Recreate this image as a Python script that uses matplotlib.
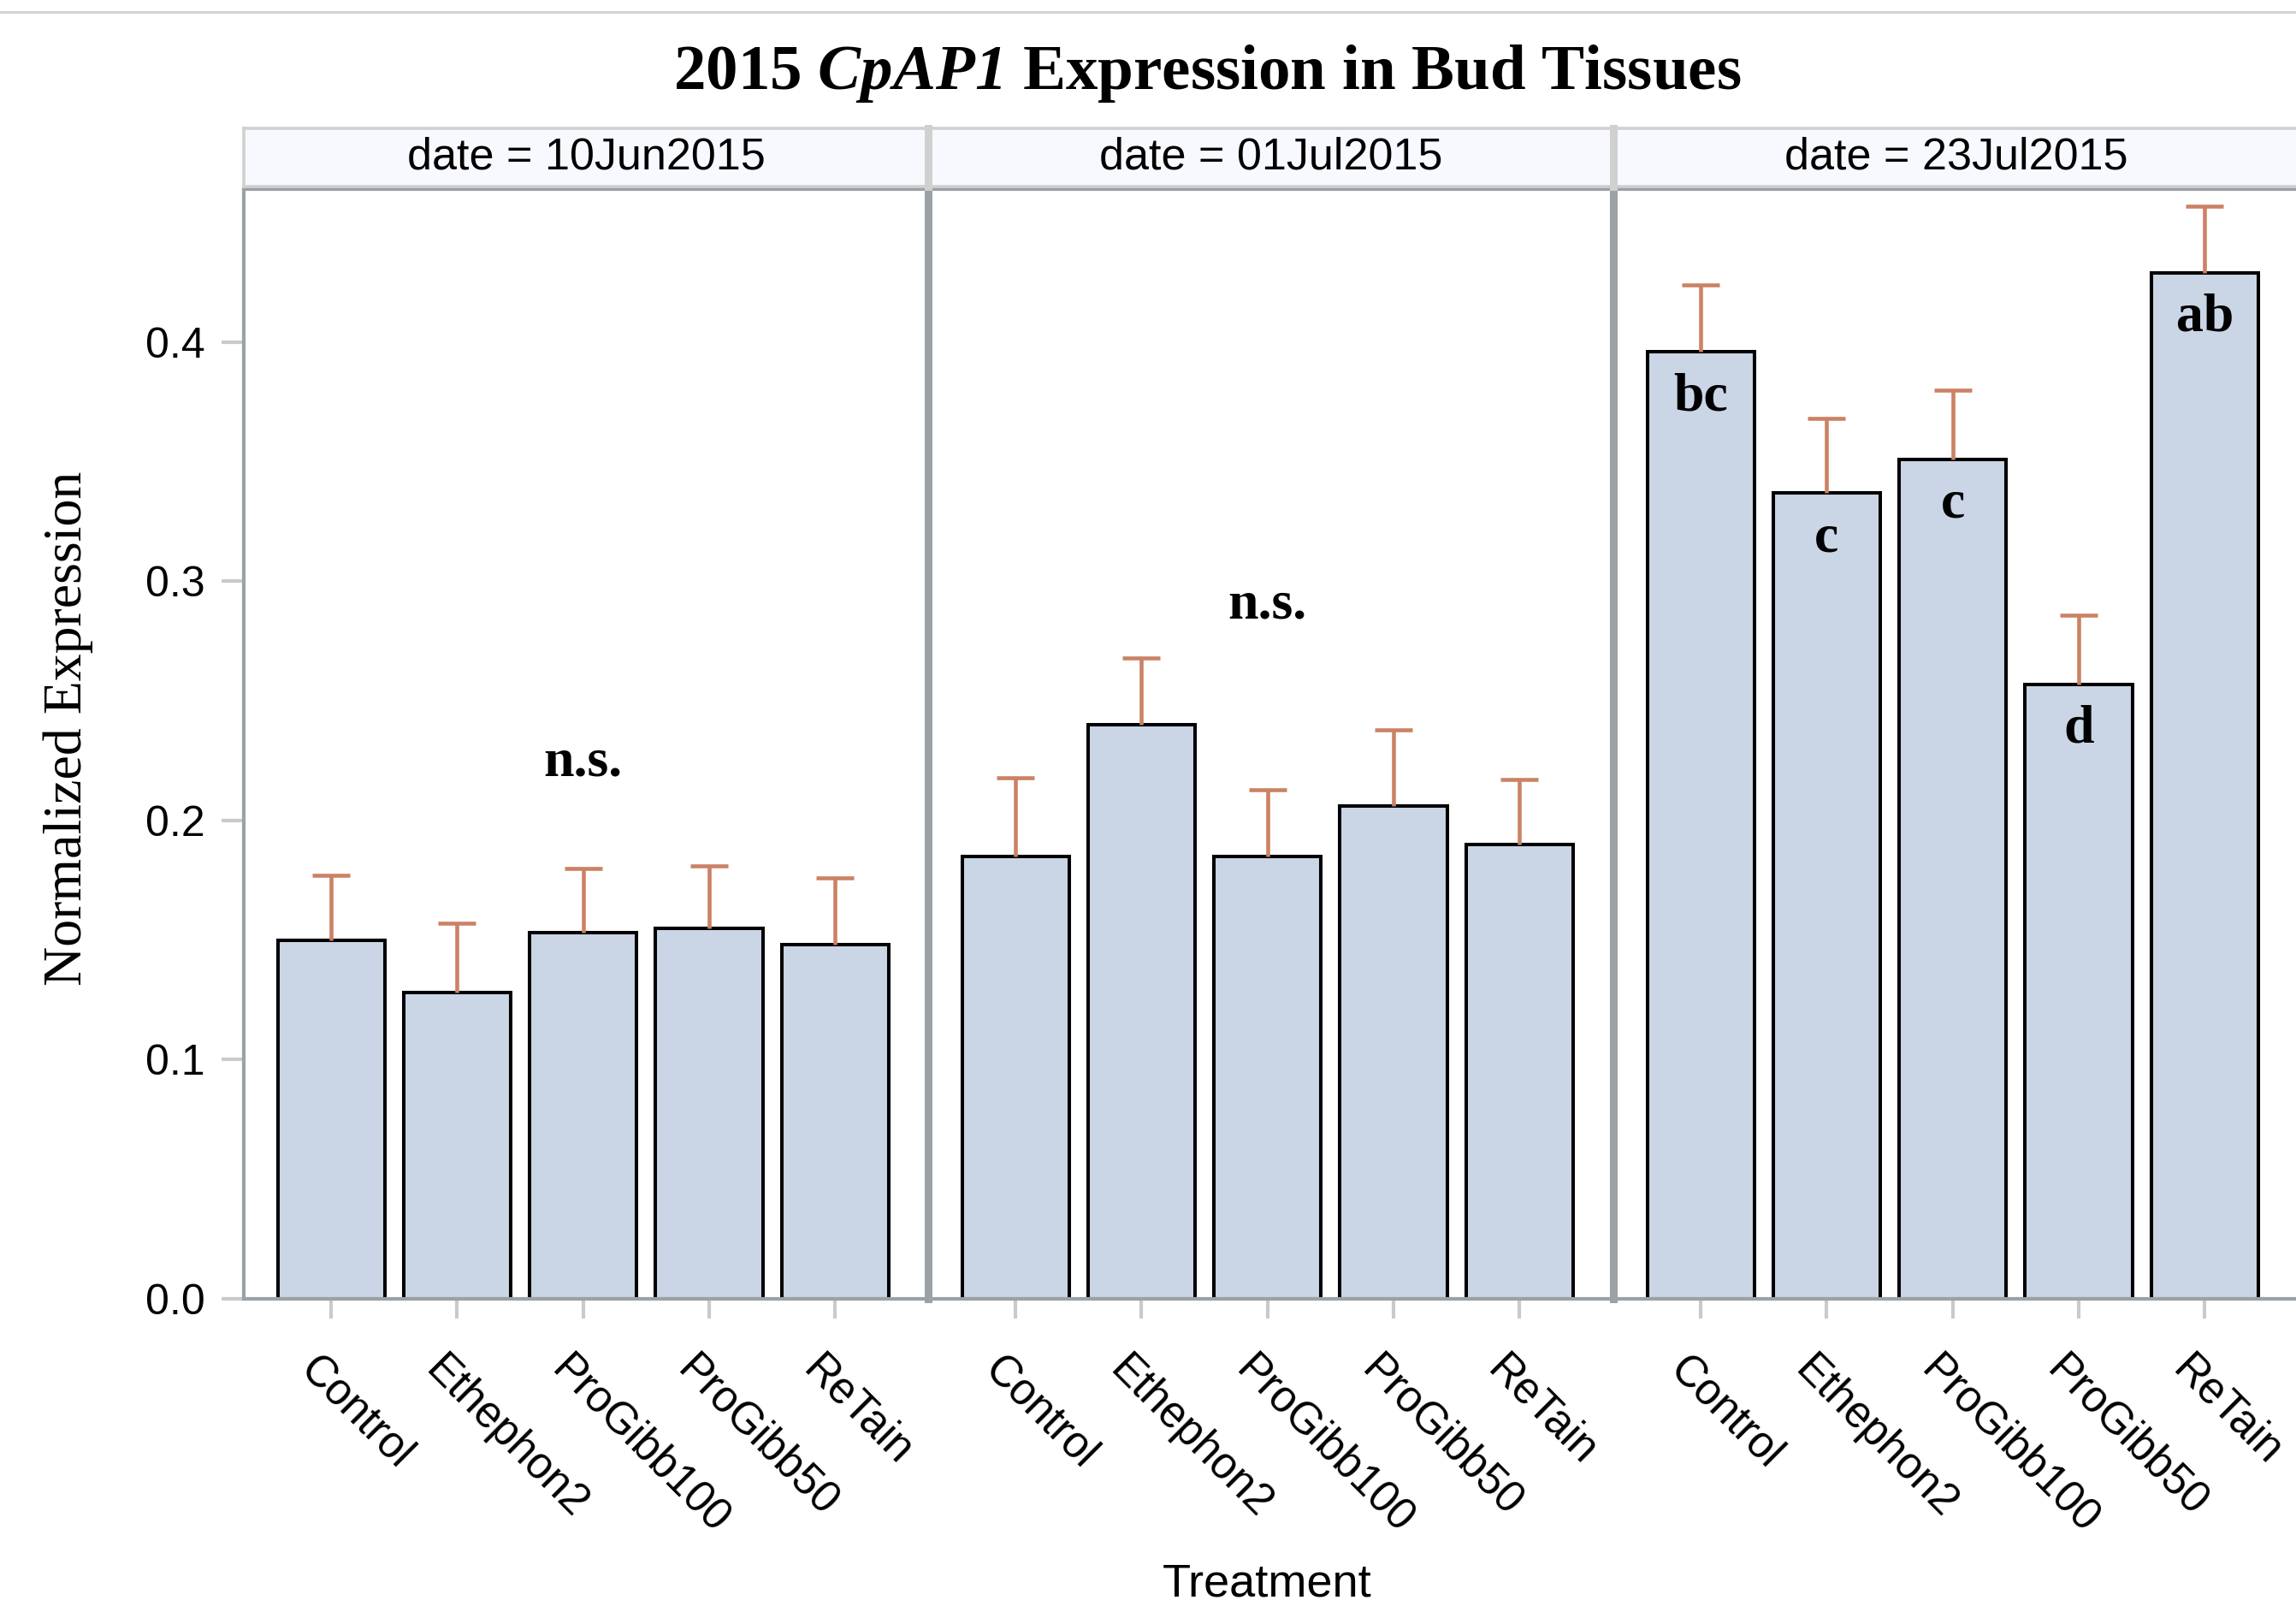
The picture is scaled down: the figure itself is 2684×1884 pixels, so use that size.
import matplotlib
matplotlib.use("Agg")
import matplotlib.pyplot as plt
from matplotlib.lines import Line2D
from matplotlib.transforms import ScaledTranslation, blended_transform_factory

# ---------------- data ----------------
treatments = ["Control", "Ethephon2", "ProGibb100", "ProGibb50", "ReTain"]
dates = ["10Jun2015", "01Jul2015", "23Jul2015"]

means_10jun = [0.150, 0.128, 0.153, 0.155, 0.148]
err_10jun = [0.027, 0.029, 0.027, 0.026, 0.028]

means_01jul = [0.185, 0.240, 0.185, 0.206, 0.190]
err_01jul = [0.033, 0.028, 0.028, 0.032, 0.027]

means_23jul = [0.396, 0.337, 0.351, 0.257, 0.429]
err_23jul = [0.028, 0.031, 0.029, 0.029, 0.028]

letters_23jul = ["bc", "c", "c", "d", "ab"]
ns_label = "n.s."

yticks = [0.0, 0.1, 0.2, 0.3, 0.4]

# ---------------- style ----------------
W, H, DPI = 2684, 1884, 100
plt.rcParams["mathtext.fontset"] = "custom"
plt.rcParams["mathtext.rm"] = "Liberation Serif:italic:bold"
plt.rcParams["mathtext.it"] = "Liberation Serif:italic:bold"
plt.rcParams["mathtext.bf"] = "Liberation Serif:italic:bold"

SANS = "Liberation Sans"
SERIF = "Liberation Serif"
bar_color = "#CAD5E5"
err_color = "#CB8264"
spine_color = "#9CA1A6"
tick_color = "#C8CACC"
head_bg = "#F8F9FE"
head_edge = "#D0D0D0"

fig = plt.figure(figsize=(W / DPI, H / DPI), dpi=DPI)

def fx(px):
    return px / W

def fy(py):
    return (H - py) / H

# top gray rule
fig.add_artist(Line2D([0, 1], [fy(14), fy(14)], transform=fig.transFigure,
                      color="#D3D3D3", lw=2.2))

panel_left = [285, 1085, 1886]
panel_w = 801
plot_top, plot_bot = 221, 1518
head_top, head_bot = 149.5, 217.5

series = [(means_10jun, err_10jun), (means_01jul, err_01jul), (means_23jul, err_23jul)]
ns_pos = {0: 0.224, 1: 0.290}

for p, (date, (m, e)) in enumerate(zip(dates, series)):
    ax = fig.add_axes([fx(panel_left[p]), fy(plot_bot), fx(panel_w),
                       (plot_bot - plot_top) / H])
    x = list(range(len(treatments)))
    ax.bar(x, m, width=0.85, color=bar_color, edgecolor="black", linewidth=2.9, zorder=2)
    eb = ax.errorbar(x, m, yerr=[[0] * len(e), e], fmt="none", ecolor=err_color,
                     elinewidth=3.3, capsize=15.5, capthick=3.3, zorder=3)
    eb[1][0].set_visible(False)
    ax.set_xlim(-0.694, 4.745)
    ax.set_ylim(0, 0.464)
    ax.set_yticks(yticks)
    ax.set_xticks(x)
    ax.set_xticklabels([])
    ax.tick_params(axis="x", length=16.5, width=3, color=tick_color, direction="out")
    if p == 0:
        ax.set_yticklabels([f"{v:.1f}" for v in yticks], fontfamily=SANS, fontsize=36)
        ax.tick_params(axis="y", length=18.5, width=3, color=tick_color, pad=14)
    else:
        ax.tick_params(axis="y", left=False, labelleft=False)
    for s in ax.spines.values():
        s.set_color(spine_color)
        s.set_linewidth(3.0)
    ax.spines["right"].set_visible(p == 2)
    if p > 0:
        ax.spines["left"].set_linewidth(6.5)

    # x tick labels, rotated
    trans = blended_transform_factory(ax.transData, ax.transAxes) + \
        ScaledTranslation(-12 / DPI, -58 / DPI, fig.dpi_scale_trans)
    for i, t in enumerate(treatments):
        ax.text(i, 0, t, transform=trans, rotation=-45, rotation_mode="anchor",
                ha="left", va="top", fontfamily=SANS, fontsize=36.5)

    # annotations
    if p in ns_pos:
        ax.text(2.0, ns_pos[p], ns_label, ha="center", va="center",
                fontfamily=SERIF, fontweight="bold", fontsize=46)
    else:
        for i, lab in enumerate(letters_23jul):
            ax.text(i, m[i] - 0.019, lab, ha="center", va="center",
                    fontfamily=SERIF, fontweight="bold", fontsize=46, zorder=4)

    # header strip
    hax = fig.add_axes([fx(panel_left[p]), fy(head_bot), fx(panel_w),
                        (head_bot - head_top) / H])
    hax.set_facecolor(head_bg)
    hax.set_xticks([])
    hax.set_yticks([])
    for s in hax.spines.values():
        s.set_color(head_edge)
        s.set_linewidth(2.6)
    if p > 0:
        hax.spines["left"].set_linewidth(6.5)
    hax.spines["right"].set_visible(p == 2)
    hax.text(0.5, 0.5, f"date = {date}", transform=hax.transAxes, ha="center",
             va="center", fontfamily=SANS, fontsize=37.5)

fig.text(fx(1411), fy(86), r"2015 $CpAP1$ Expression in Bud Tissues",
         ha="center", va="center", fontfamily=SERIF, fontweight="bold", fontsize=54)
fig.text(fx(80), fy(851), "Normalized Expression", rotation=90, ha="center",
         va="center", fontfamily=SERIF, fontsize=46)
fig.text(fx(1481), fy(1852), "Treatment", ha="center", va="center",
         fontfamily=SANS, fontsize=39)

fig.savefig("out.png", dpi=DPI)
